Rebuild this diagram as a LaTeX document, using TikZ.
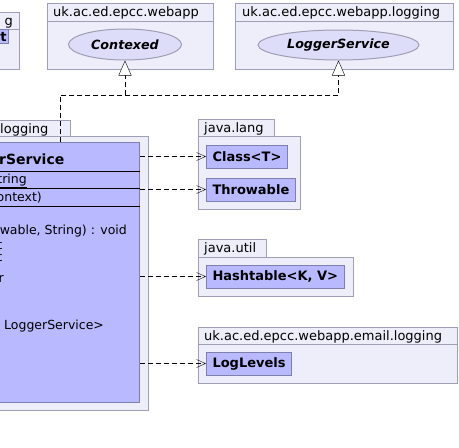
\documentclass[tikz,border=0pt]{standalone}
\usepackage{fontspec}
\setmainfont{DejaVu Sans}
\usetikzlibrary{shapes.geometric}
\usetikzlibrary{positioning}
\usetikzlibrary{arrows.meta}
\definecolor{pkgfill}{HTML}{EEEEFB}
\definecolor{pkgline}{HTML}{9E9EB4}
\definecolor{clsfill}{HTML}{B9B9FF}
\definecolor{clsline}{HTML}{7F7FAF}
\definecolor{ifcfill}{HTML}{DDDDFA}
\tikzset{pkg/.style={draw=pkgline,fill=pkgfill,line width=1pt},
         pkgrule/.style={draw=pkgline,line width=1pt},
         pkgtitle/.style={font=\fontsize{13}{15}\selectfont,inner sep=0pt},
         cls/.style={draw=clsline,fill=clsfill,line width=1pt,font=\fontsize{13}{15}\selectfont\bfseries,inner xsep=6pt,inner ysep=0pt,minimum height=23pt},
         ifc/.style={ellipse,draw=pkgline,fill=ifcfill,line width=1pt,font=\fontsize{12.7}{15}\selectfont\bfseries\itshape,inner sep=0pt},
         member/.style={font=\fontsize{12.5}{14}\selectfont,inner sep=0pt},
         dep/.style={dash pattern=on 5pt off 3pt,-{Straight Barb[length=9pt,width=8pt]}},
         impl/.style={dash pattern=on 5pt off 3pt,-{Triangle[fill=white,length=15pt,width=13pt]}},
         }
\begin{document}
\begin{tikzpicture}[x=1pt,y=-1pt]
\useasboundingbox (0,0) rectangle (459,448);
\clip (0,0) rectangle (459,448);

% top packages
\draw[pkg] (-60,12) rectangle (19,69);
\draw[pkgrule] (-60,29) -- (19,29);
\node[pkgtitle,anchor=base east] (topttl) at (13,25) {g};
\node[cls,anchor=north east,minimum height=14pt,inner xsep=2pt] (topcls) at (9,29) {t};

\draw[pkg] (47,3) rectangle (213,69);
\draw[pkgrule] (47,21) -- (213,21);
\node[pkgtitle,anchor=base west] (webttl) at (53,16) {uk.ac.ed.epcc.webapp};
\node[ifc,minimum width=113pt,minimum height=31pt] (ctx) at (125,44.5) {Contexed};

\draw[pkg] (235,3) rectangle (453,69);
\draw[pkgrule] (235,21) -- (453,21);
\node[pkgtitle,anchor=base west] (logttl) at (242,16) {uk.ac.ed.epcc.webapp.logging};
\node[ifc,minimum width=161pt,minimum height=30pt] (lsvc) at (338.5,45) {LoggerService};

% the class
\draw[pkg] (-80,120) rectangle (70,136);
\draw[pkg] (-80,136) rectangle (148,410);
\node[pkgtitle,anchor=base west] (lpkgttl) at (0,133) {logging};
\node[draw=clsline,fill=clsfill,line width=1pt,minimum width=320pt,minimum height=260pt,anchor=north east] (svc) at (140,142) {};
\foreach \y in {171,188,206}
  \draw (svc.west |- 0,\y) -- (svc.east |- 0,\y);
\node[member,font=\fontsize{14}{16}\selectfont\bfseries,anchor=base west] (svcname) at (-1,164) {rService};
\node[member,anchor=base east] (fld) at (27,183) {\underline{tring}};
\node[member,anchor=base east] (ctor) at (42,201) {ontext)};
\node[member,anchor=base east] (mtda) at (127,234) {owable, String) : void};
\node[member,anchor=base east] (mtdb) at (2.5,249) {t};
\node[member,anchor=base east] (mtdc) at (2.5,261) {t};
\node[member,anchor=base east] (mtdd) at (4,282) {r};
\node[member,anchor=base west] (mtde) at (4,329) {LoggerService>};

% right packages
\draw[pkg] (198,119) rectangle (274,136);
\draw[pkg] (198,136) rectangle (300,209);
\node[pkgtitle,anchor=base west] (langttl) at (204,132) {java.lang};
\node[cls,anchor=west] (classT) at (206,156.5) {Class<T>};
\node[cls,anchor=west] (thr) at (206,189.5) {Throwable};

\draw[pkg] (198,239) rectangle (266,257);
\draw[pkg] (198,257) rectangle (353,296);
\node[pkgtitle,anchor=base west] (utilttl) at (204,252) {java.util};
\node[cls,anchor=west] (htab) at (206,276.5) {Hashtable<K, V>};

\draw[pkg] (198,327) rectangle (457,383);
\draw[pkgrule] (198,344) -- (457,344);
\node[pkgtitle,anchor=base west] (emailttl) at (204,340) {uk.ac.ed.epcc.webapp.email.logging};
\node[cls,anchor=west] (lvl) at (206,363.5) {LogLevels};

% connectors
\foreach \t in {classT,thr,htab,lvl}
  \draw[dep] (svc.east |- \t.west) -- (\t.west);
\coordinate (svctop) at (60,142);
\draw[impl] (svctop) -- (60,95) -| (ctx.south);
\draw[impl] (svctop) -- (60,95) -| (lsvc.south);
\end{tikzpicture}
\end{document}
